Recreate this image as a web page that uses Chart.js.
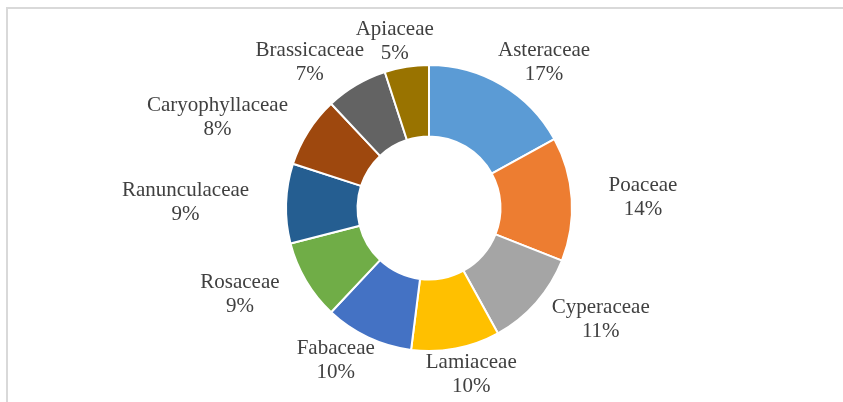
<!DOCTYPE html>
<html>
<head>
<meta charset="utf-8">
<script src="https://cdn.jsdelivr.net/npm/chart.js@4"></script>
<style>
    html, body { margin: 0; padding: 0; background: #fff; }
    #wrap { position: relative; width: 843px; height: 402px; overflow: hidden; }
    #frame {
        position: absolute; left: 6px; top: 7px; width: 900px; height: 500px;
        border: 2px solid #d9d9d9; box-sizing: border-box;
    }
    #chart { position: absolute; left: 0; top: 0; }
</style>
</head>
<body>
<div id="wrap">
    <div id="frame"></div>
    <canvas id="chart" width="843" height="402"></canvas>
</div>
<script>
// Families and their share (%)
const families = [
    "Asteraceae", "Poaceae", "Cyperaceae", "Lamiaceae", "Fabaceae",
    "Rosaceae", "Ranunculaceae", "Caryophyllaceae", "Brassicaceae", "Apiaceae",
];
const shares = [17, 14, 11, 10, 10, 9, 9, 8, 7, 5];

// Excel office palette
const sliceColors = [
    "#5B9BD5", "#ED7D31", "#A5A5A5", "#FFC000", "#4472C4",
    "#70AD47", "#255E91", "#9E480E", "#636363", "#997300",
];

// Outside labels: "Name" over "NN%"
const outsideLabels = {
    id: "outsideLabels",
    afterDatasetsDraw(chart) {
        const ctx = chart.ctx;
        const meta = chart.getDatasetMeta(0);
        const lineH = 24;
        ctx.save();
        ctx.font = "21px 'Liberation Serif', 'Times New Roman', serif";
        ctx.fillStyle = "#404040";
        ctx.textAlign = "center";
        ctx.textBaseline = "middle";
        meta.data.forEach(function (arc, i) {
            const p = arc.getProps(["x", "y", "startAngle", "endAngle", "outerRadius"], true);
            const mid = (p.startAngle + p.endAngle) / 2;
            const ux = Math.cos(mid);
            const uy = Math.sin(mid);
            const name = families[i];
            const pct = shares[i] + "%";
            const w = Math.max(ctx.measureText(name).width, ctx.measureText(pct).width);
            const cx = p.x + ux * (p.outerRadius + 37 + w / 2);
            const cy = p.y + uy * (p.outerRadius + 2 + lineH);
            ctx.fillText(name, cx, cy - lineH / 2);
            ctx.fillText(pct, cx, cy + lineH / 2);
        });
        ctx.restore();
    },
};

const ctx = document.getElementById("chart").getContext("2d");
new Chart(ctx, {
    type: "doughnut",
    data: {
        labels: families,
        datasets: [
            {
                data: shares,
                backgroundColor: sliceColors,
                borderColor: "#ffffff",
                borderWidth: 2,
                hoverOffset: 0,
            },
        ],
    },
    options: {
        responsive: false,
        animation: false,
        cutout: "50%",
        layout: {
            padding: { left: 150, right: 135, top: 64, bottom: 50 },
        },
        plugins: {
            legend: { display: false },
            tooltip: { enabled: false },
        },
    },
    plugins: [outsideLabels],
});
</script>
</body>
</html>
